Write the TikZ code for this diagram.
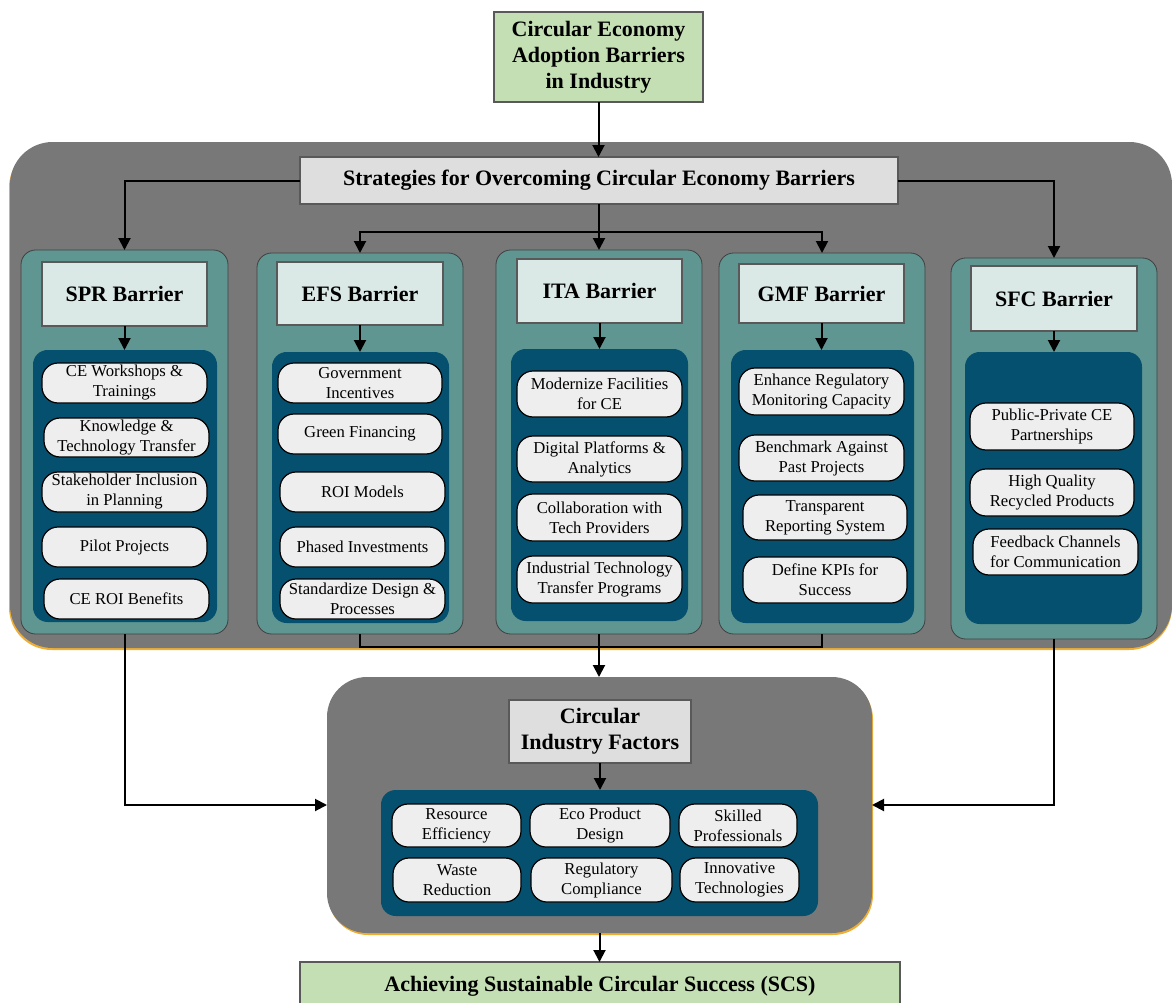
\documentclass[tikz,border=0pt]{standalone}
\usepackage{fontspec}
\setmainfont{Liberation Serif}
\usetikzlibrary{arrows.meta}

\definecolor{panelgray}{RGB}{120,120,120}
\definecolor{colteal}{RGB}{95,150,145}
\definecolor{deepblue}{RGB}{5,80,110}
\definecolor{headfill}{RGB}{218,232,230}
\definecolor{bandfill}{RGB}{222,222,222}
\definecolor{itemfill}{RGB}{238,238,238}
\definecolor{goalgreen}{RGB}{197,223,180}
\definecolor{edgeorange}{RGB}{240,175,50}

\begin{document}
\begin{tikzpicture}[x=0.75pt,y=-0.75pt,
  % a box given by its corners (x1,y1) and (x2,y2), in pixel units
  rect/.style n args={4}{at={({(#1+#3)/2},{(#2+#4)/2})},
    minimum width={(#3-#1)*0.75pt}, minimum height={(#4-#2)*0.75pt}},
  box/.style={inner sep=0pt, outer sep=0pt, anchor=center},
  panel/.style={box, fill=panelgray, rounded corners=32pt},
  column/.style={box, fill=colteal, draw=black!75, line width=0.6pt, rounded corners=11pt},
  deep/.style={box, fill=deepblue, rounded corners=11pt},
  head/.style={box, fill=headfill, draw=black!65, line width=0.8pt,
    font=\fontsize{16.5}{19.5}\selectfont\bfseries},
  band/.style={box, fill=bandfill, draw=black!65, line width=0.8pt, align=center,
    font=\fontsize{16.5}{19.5}\selectfont\bfseries},
  item/.style={box, fill=itemfill, draw=black, line width=0.9pt, rounded corners=12pt,
    align=center, font=\fontsize{12.5}{15}\selectfont},
  goal/.style={box, fill=goalgreen, draw=black!65, line width=0.8pt, align=center,
    font=\fontsize{16.5}{19.5}\selectfont\bfseries},
  link/.style={line width=1.5pt},
  arr/.style={link, -{Triangle[length=9pt,width=9pt]}},
]
\useasboundingbox (0,0) rectangle (1172,1003);

% ---------- top source box ----------
\node[goal, rect={494}{12}{703}{102}] (title) {Circular Economy\\Adoption Barriers\\in Industry};

% ---------- strategies panel ----------
\fill[edgeorange, rounded corners=32pt] (9,145) rectangle (1172,650);
\node[panel, rect={10}{142}{1172}{648}] (stratpanel) {};
\node[band, rect={300}{157}{898}{204}] (strat) {Strategies for Overcoming Circular Economy Barriers};

% barrier columns
\node[column, rect={21}{250}{228}{634}] (colSPR) {};
\node[column, rect={257}{253}{463}{634}] (colEFS) {};
\node[column, rect={496}{250}{702}{634}] (colITA) {};
\node[column, rect={719}{253}{925}{634}] (colGMF) {};
\node[column, rect={951}{258}{1157}{639}] (colSFC) {};

% column headers
\node[head, rect={42}{262}{207}{326}] (hSPR) {SPR Barrier};
\node[head, rect={277}{262}{443}{325}] (hEFS) {EFS Barrier};
\node[head, rect={517}{259}{682}{323}] (hITA) {ITA Barrier};
\node[head, rect={739}{264}{904}{323}] (hGMF) {GMF Barrier};
\node[head, rect={971}{266}{1137}{331}] (hSFC) {SFC Barrier};

% inner strategy groups
\node[deep, rect={33}{350}{217}{622}] (dSPR) {};
\node[deep, rect={272}{352}{449}{623}] (dEFS) {};
\node[deep, rect={511}{349}{688}{621}] (dITA) {};
\node[deep, rect={731}{350}{914}{623}] (dGMF) {};
\node[deep, rect={965}{352}{1142}{624}] (dSFC) {};

% SPR strategies
\node[item, rect={42}{363}{207}{403}] (s1) {CE Workshops \&\\Trainings};
\node[item, rect={44}{418}{209}{457}] (s2) {Knowledge \&\\Technology Transfer};
\node[item, rect={42}{472}{207}{512}] (s3) {Stakeholder Inclusion\\in Planning};
\node[item, rect={42}{527}{207}{567}] (s4) {Pilot Projects};
\node[item, rect={44}{579}{209}{619}] (s5) {CE ROI Benefits};

% EFS strategies
\node[item, rect={278}{363}{442}{403}] (e1) {Government\\Incentives};
\node[item, rect={278}{414}{442}{454}] (e2) {Green Financing};
\node[item, rect={280}{472}{445}{512}] (e3) {ROI Models};
\node[item, rect={280}{527}{445}{567}] (e4) {Phased Investments};
\node[item, rect={280}{579}{445}{619}] (e5) {Standardize Design \&\\Processes};

% ITA strategies
\node[item, rect={517}{371}{682}{417}] (i1) {Modernize Facilities\\for CE};
\node[item, rect={517}{436}{682}{482}] (i2) {Digital Platforms \&\\Analytics};
\node[item, rect={517}{494}{682}{541}] (i3) {Collaboration with\\Tech Providers};
\node[item, rect={517}{556}{682}{603}] (i4) {Industrial Technology\\Transfer Programs};

% GMF strategies
\node[item, rect={739}{368}{904}{415}] (g1) {Enhance Regulatory\\Monitoring Capacity};
\node[item, rect={739}{435}{904}{481}] (g2) {Benchmark Against\\Past Projects};
\node[item, rect={743}{495}{907}{540}] (g3) {Transparent\\Reporting System};
\node[item, rect={743}{557}{907}{603}] (g4) {Define KPIs for\\Success};

% SFC strategies
\node[item, rect={970}{403}{1134}{450}] (f1) {Public-Private CE\\Partnerships};
\node[item, rect={970}{469}{1134}{516}] (f2) {High Quality\\Recycled Products};
\node[item, rect={973}{529}{1138}{575}] (f3) {Feedback Channels\\for Communication};

% ---------- circular industry factors ----------
\fill[edgeorange, rounded corners=30pt] (328,679) rectangle (873,935);
\node[panel, rounded corners=30pt, rect={327}{677}{872}{933}] (factpanel) {};
\node[band, rect={509}{700}{691}{763}] (facthead) {Circular\\Industry Factors};
\node[deep, rect={381}{790}{818}{916}] (factdeep) {};
\node[item, rect={392}{804}{521}{847}] (r1) {Resource\\Efficiency};
\node[item, rect={530}{804}{670}{847}] (r2) {Eco Product\\Design};
\node[item, rect={679}{804}{797}{847}] (r3) {Skilled\\Professionals};
\node[item, rect={393}{858}{521}{902}] (r4) {Waste\\Reduction};
\node[item, rect={531}{858}{672}{902}] (r5) {Regulatory\\Compliance};
\node[item, rect={680}{858}{799}{902}] (r6) {Innovative\\Technologies};

% ---------- outcome ----------
\node[goal, rect={300}{962}{900}{1010}] (goal) {Achieving Sustainable Circular Success (SCS)};

% ---------- connectors ----------
\draw[arr] (title.south) -- (title.south |- strat.north);
\draw[arr] (strat.west) -| (colSPR.north);
\draw[arr] (strat.east) -| (colSFC.north);
\draw[arr] (strat.south) -- (strat.south |- colITA.north);
\coordinate (split) at (599,232);
\draw[arr] (split) -| (colEFS.north);
\draw[arr] (split) -| (colGMF.north);

\foreach \b in {SPR,EFS,ITA,GMF,SFC}
  \draw[arr] (h\b.south) -- (h\b.south |- d\b.north);

\coordinate (join) at (599,647);
\draw[link] (colEFS.south) |- (join) -| (colGMF.south);
\draw[arr] (colITA.south) -- (colITA.south |- factpanel.north);
\draw[arr] (colSPR.south) |- (factpanel.west);
\draw[arr] (colSFC.south) |- (factpanel.east);
\draw[arr] (facthead.south) -- (facthead.south |- factdeep.north);
\draw[arr] (factpanel.south) -- (factpanel.south |- goal.north);
\end{tikzpicture}
\end{document}
